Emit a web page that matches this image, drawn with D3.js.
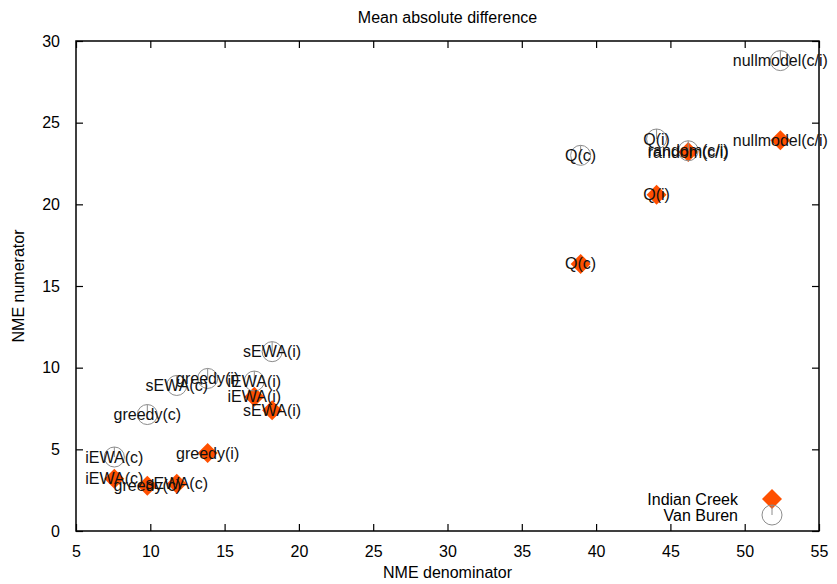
<!DOCTYPE html>
<html>
<head>
<meta charset="utf-8">
<script src="https://cdn.jsdelivr.net/npm/d3@7"></script>
<style>
  html, body { margin: 0; padding: 0; background: #fff; }
  svg { display: block; }
  text { font-family: "Liberation Sans", Arial, sans-serif; }
</style>
</head>
<body>
<svg id="chart" width="837" height="584"></svg>
<script>
// ---- data ----
const labels = ["nullmodel(c/i)", "Q(i)", "random(c/i)", "Q(c)", "sEWA(i)", "greedy(i)", "iEWA(i)", "sEWA(c)", "greedy(c)", "iEWA(c)"];
const denominators = [52.4, 44.07, 46.2, 38.96, 18.2, 13.86, 17.0, 11.78, 9.8, 7.58];
const vanBurenNumerator = [28.8, 24.0, 23.28, 23.0, 10.98, 9.34, 9.18, 8.91, 7.13, 4.53];
const indianCreekNumerator = [23.93, 20.59, 23.2, 16.35, 7.40, 4.77, 8.22, 2.89, 2.77, 3.20];
const seriesNames = ["Indian Creek", "Van Buren"];
const xTicks = [5, 10, 15, 20, 25, 30, 35, 40, 45, 50, 55];
const yTicks = [0, 5, 10, 15, 20, 25, 30];

// ---- layout ----
const W = 837, H = 584;
const m = { left: 76, right: 18, top: 41, bottom: 53 };
const svg = d3.select("#chart");
const x = d3.scaleLinear().domain([5, 55]).range([m.left, W - m.right]);
const y = d3.scaleLinear().domain([0, 30]).range([H - m.bottom, m.top]);
const tickLen = 7;
const FS = 16;

// axes (ticks inward, mirrored)
const gx = svg.append("g").attr("transform", `translate(0,${H - m.bottom})`)
  .call(d3.axisBottom(x).tickValues(xTicks).tickSizeInner(-tickLen).tickSizeOuter(0).tickPadding(tickLen + 8));
const gxTop = svg.append("g").attr("transform", `translate(0,${m.top})`)
  .call(d3.axisTop(x).tickValues(xTicks).tickSizeInner(-tickLen).tickSizeOuter(0).tickFormat(""));
const gy = svg.append("g").attr("transform", `translate(${m.left},0)`)
  .call(d3.axisLeft(y).tickValues(yTicks).tickSizeInner(-tickLen).tickSizeOuter(0).tickPadding(tickLen + 9));
const gyR = svg.append("g").attr("transform", `translate(${W - m.right},0)`)
  .call(d3.axisRight(y).tickValues(yTicks).tickSizeInner(-tickLen).tickSizeOuter(0).tickFormat(""));
[gx, gxTop, gy, gyR].forEach(g => {
  g.select(".domain").remove();
  g.selectAll(".tick line").attr("stroke", "#000").attr("stroke-width", 1.2);
  g.selectAll(".tick text").attr("font-size", FS).attr("fill", "#000")
    .attr("font-family", "Liberation Sans, Arial, sans-serif");
});
// border
svg.append("rect")
  .attr("x", m.left).attr("y", m.top)
  .attr("width", W - m.right - m.left).attr("height", H - m.bottom - m.top)
  .attr("fill", "none").attr("stroke", "#000").attr("stroke-width", 1.5);

// titles
svg.append("text").attr("x", (m.left + W - m.right) / 2).attr("y", 17)
  .attr("text-anchor", "middle").attr("dominant-baseline", "central")
  .attr("font-size", FS).attr("fill", "#000").text("Mean absolute difference");
svg.append("text").attr("x", (m.left + W - m.right) / 2).attr("y", 572)
  .attr("text-anchor", "middle").attr("dominant-baseline", "central")
  .attr("font-size", FS).attr("fill", "#000").text("NME denominator");
svg.append("text").attr("transform", `translate(18,${(m.top + H - m.bottom) / 2}) rotate(-90)`)
  .attr("text-anchor", "middle").attr("dominant-baseline", "central")
  .attr("font-size", FS).attr("fill", "#000").text("NME numerator");

// markers
const diamondColor = "#ff5000";
const circleColor = "#8c8c8c";
const dR = 10, cR = 10;
function diamond(g, cx, cy) {
  g.append("path").attr("d", `M${cx},${cy - dR}L${cx + dR},${cy}L${cx},${cy + dR}L${cx - dR},${cy}Z`)
    .attr("fill", diamondColor);
}
function circle(g, cx, cy) {
  g.append("circle").attr("cx", cx).attr("cy", cy).attr("r", cR)
    .attr("fill", "none").attr("stroke", circleColor).attr("stroke-width", 1);
  g.append("line").attr("x1", cx).attr("x2", cx).attr("y1", cy - cR).attr("y2", cy)
    .attr("stroke", circleColor).attr("stroke-width", 1);
}
const marks = svg.append("g");
labels.forEach((l, i) => diamond(marks, x(denominators[i]), y(indianCreekNumerator[i])));
labels.forEach((l, i) => circle(marks, x(denominators[i]), y(vanBurenNumerator[i])));

// labels
const lab = svg.append("g").attr("font-size", FS).attr("fill", "#111")
  .attr("text-anchor", "middle").attr("dominant-baseline", "central");
labels.forEach((l, i) => lab.append("text").attr("x", x(denominators[i])).attr("y", y(indianCreekNumerator[i])).text(l));
labels.forEach((l, i) => lab.append("text").attr("x", x(denominators[i])).attr("y", y(vanBurenNumerator[i])).text(l));

// legend
const legX = 738, legMX = 772, legY0 = 499, legDY = 16;
const leg = svg.append("g");
seriesNames.forEach((s, i) => {
  leg.append("text").attr("x", legX).attr("y", legY0 + i * legDY)
    .attr("text-anchor", "end").attr("dominant-baseline", "central")
    .attr("font-size", FS).attr("fill", "#000").text(s);
});
diamond(leg, legMX, legY0);
circle(leg, legMX, legY0 + legDY);
</script>
</body>
</html>
